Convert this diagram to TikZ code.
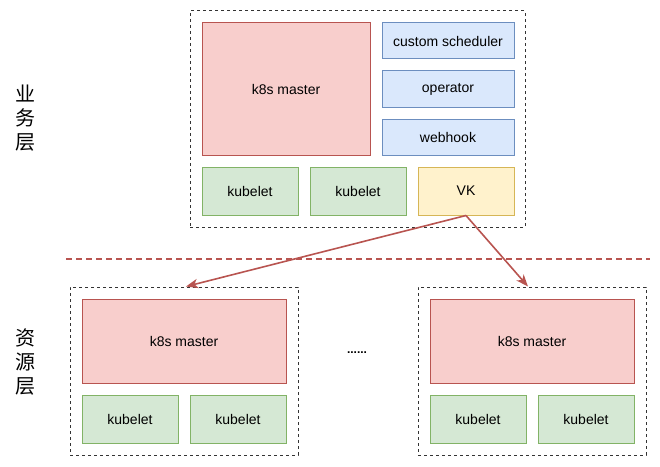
\documentclass[tikz,border=0pt]{standalone}
\usepackage{fontspec}
\setmainfont{Liberation Sans}
\newfontfamily\cjk{Noto Sans CJK SC}
\usetikzlibrary{positioning,arrows.meta}
\definecolor{DIOredfill}{HTML}{F8CECC}
\definecolor{DIOredline}{HTML}{B85450}
\definecolor{DIObluefill}{HTML}{DAE8FC}
\definecolor{DIOblueline}{HTML}{6C8EBF}
\definecolor{DIOgreenfill}{HTML}{D5E8D4}
\definecolor{DIOgreenline}{HTML}{82B366}
\definecolor{DIOyellowfill}{HTML}{FFF2CC}
\definecolor{DIOyellowline}{HTML}{D6B656}
\definecolor{DIOframe}{HTML}{333333}

\begin{document}
\begin{tikzpicture}[x=0.75pt, y=-0.75pt,
  box/.style={rectangle, line width=0.75pt, inner sep=0pt, text=black, font=\fontsize{10.5}{12}\selectfont},
  master/.style={box, draw=DIOredline, fill=DIOredfill},
  plugin/.style={box, draw=DIOblueline, fill=DIObluefill, minimum width=99pt, minimum height=27pt},
  kubebox/.style={box, draw=DIOgreenline, fill=DIOgreenfill, minimum width=72pt, minimum height=36pt},
  vkbox/.style={box, draw=DIOyellowline, fill=DIOyellowfill, minimum width=72pt, minimum height=36pt},
  frame/.style={rectangle, draw=DIOframe, line width=0.75pt, dash pattern=on 2.25pt off 2.25pt, inner sep=0pt},
  layerlabel/.style={font=\cjk\fontsize{15}{18}\selectfont, align=center},
  link/.style={draw=DIOredline, line width=1.2pt, -{Stealth[length=9pt, width=7pt, inset=2.5pt]}}]
\useasboundingbox (0,0) rectangle (660,467);
% upper layer
\node[frame, minimum width=251.25pt, minimum height=162pt] (topframe) at (357.5,119) {};
\node[master, minimum width=126pt, minimum height=99pt] (topmaster) at (286,89) {k8s master};
\node[plugin] (scheduler) at (448,41) {custom scheduler};
\node[plugin] (operator) at (448,89) {operator};
\node[plugin] (webhook) at (448,137) {webhook};
\node[kubebox] (topkubeA) at (250,191) {kubelet};
\node[kubebox] (topkubeB) at (358,191) {kubelet};
\node[vkbox] (vk) at (466,191) {VK};
% separator
\draw[DIOredline, line width=1.1pt, dash pattern=on 4.5pt off 3pt] (66,259) -- (650,259);
% lower layer
\node[frame, minimum width=171pt, minimum height=126pt] (leftframe) at (184,371) {};
\node[master, minimum width=153pt, minimum height=63pt] (leftmaster) at (184,341) {k8s master};
\node[kubebox] (leftkubeA) at (130,419) {kubelet};
\node[kubebox] (leftkubeB) at (238,419) {kubelet};
\node[frame, minimum width=171pt, minimum height=126pt] (rightframe) at (532,371) {};
\node[master, minimum width=153pt, minimum height=63pt] (rightmaster) at (532,341) {k8s master};
\node[kubebox] (rightkubeA) at (478,419) {kubelet};
\node[kubebox] (rightkubeB) at (586,419) {kubelet};
\node[font=\fontsize{9}{11}\selectfont\bfseries] (dots) at (357,353) {......};
% layer names
\node[layerlabel] (bizlayer) at (25,118) {业\\务\\层};
\node[layerlabel] (reslayer) at (25,362) {资\\源\\层};
% links
\draw[link] (vk.south) -- ([xshift=1.5pt]leftframe.north);
\draw[link] (vk.south) -- ([xshift=-3pt]rightframe.north);
\end{tikzpicture}
\end{document}
